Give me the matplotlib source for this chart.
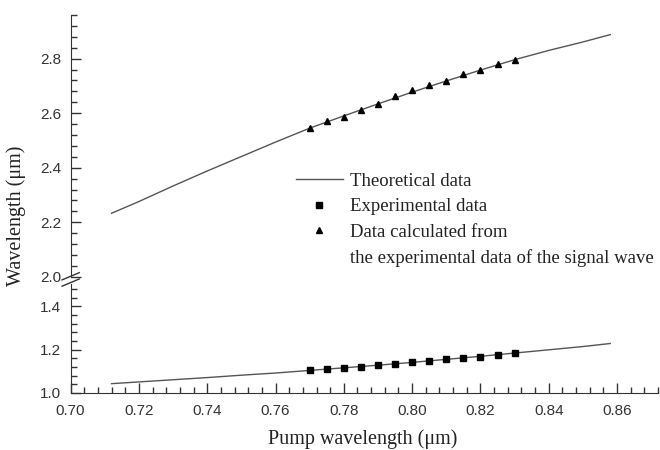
import matplotlib
matplotlib.use("Agg")
import matplotlib.pyplot as plt
from matplotlib.lines import Line2D
from matplotlib.ticker import MultipleLocator, FormatStrFormatter

# theoretical curves
theory_x = [0.712, 0.72, 0.73, 0.74, 0.75, 0.76, 0.77, 0.78, 0.79, 0.80,
            0.81, 0.82, 0.83, 0.84, 0.85, 0.858]
theory_idler = [2.233, 2.276, 2.333, 2.388, 2.441, 2.494, 2.545, 2.590, 2.634, 2.677,
                2.718, 2.758, 2.796, 2.830, 2.861, 2.888]
theory_signal = [1.043, 1.051, 1.061, 1.071, 1.082, 1.092, 1.104, 1.116, 1.128, 1.141,
                 1.155, 1.169, 1.184, 1.199, 1.214, 1.228]

# measured points
pump_x = [0.770, 0.775, 0.780, 0.785, 0.790, 0.795, 0.800, 0.805, 0.810,
          0.815, 0.820, 0.825, 0.830]
signal_exp = [1.106, 1.111, 1.117, 1.121, 1.128, 1.134, 1.141, 1.147, 1.155,
              1.161, 1.167, 1.175, 1.183]
idler_calc = [2.545, 2.573, 2.585, 2.612, 2.634, 2.664, 2.686, 2.704, 2.717,
              2.745, 2.757, 2.780, 2.796]

line_col = "#555555"
text_col = "#222222"
serif = "Liberation Serif"
sans = "Liberation Sans"

fig = plt.figure(figsize=(6.6, 4.5), dpi=100)
ax_lo = fig.add_axes([0.107, 0.1267, 0.89, 0.2411])
ax_hi = fig.add_axes([0.107, 0.3849, 0.89, 0.5818])

for ax in (ax_lo, ax_hi):
    ax.set_xlim(0.70, 0.872)
    ax.spines["top"].set_visible(False)
    ax.spines["right"].set_visible(False)
    ax.spines["left"].set_color("#333333")
    ax.spines["bottom"].set_color("#333333")
    ax.tick_params(which="both", direction="in", colors="#333333", labelcolor="#333333",
                   labelsize=11, width=1)
    ax.tick_params(which="major", length=7)
    ax.tick_params(which="minor", length=4)
    ax.tick_params(axis="x", pad=8)
    ax.tick_params(axis="y", pad=7)
    ax.xaxis.set_major_locator(MultipleLocator(0.02))
    ax.xaxis.set_minor_locator(MultipleLocator(0.004))
    ax.yaxis.set_minor_locator(MultipleLocator(0.04))
    ax.yaxis.set_major_locator(MultipleLocator(0.2))
    ax.yaxis.set_major_formatter(FormatStrFormatter("%.1f"))
    ax.xaxis.set_major_formatter(FormatStrFormatter("%.2f"))

ax_hi.spines["bottom"].set_visible(False)
ax_hi.tick_params(axis="x", which="both", bottom=False, labelbottom=False)

ax_lo.set_ylim(1.0, 1.5)
ax_hi.set_ylim(2.0, 2.96)

ax_hi.plot(theory_x, theory_idler, "-", color=line_col, lw=1)
ax_lo.plot(theory_x, theory_signal, "-", color=line_col, lw=1)
ax_lo.plot(pump_x, signal_exp, "s", color="black", ms=4.5)
ax_hi.plot(pump_x, idler_calc, "^", color="black", ms=5)

for ax in (ax_lo, ax_hi):
    for lab in ax.get_xticklabels() + ax.get_yticklabels():
        lab.set_family(sans)

# break marks on the y axis
for yy in (0.372, 0.386):
    fig.add_artist(Line2D([0.094, 0.120], [yy - 0.008, yy + 0.008],
                          transform=fig.transFigure, color="#333333", lw=1))

handles = [
    Line2D([], [], color=line_col, lw=1),
    Line2D([], [], ls="none", marker="s", color="black", ms=4.5),
    Line2D([], [], ls="none", marker="^", color="black", ms=5),
    Line2D([], [], ls="none"),
]
labels = ["Theoretical data", "Experimental data", "Data calculated from",
          "the experimental data of the signal wave"]
fig.legend(handles, labels, loc="upper left", bbox_to_anchor=(0.4485, 0.616),
           frameon=False, borderpad=0, borderaxespad=0, handlelength=2.5,
           handletextpad=0.37, labelspacing=0.44,
           prop={"family": serif, "size": 13.5}, labelcolor=text_col)

ax_hi.set_ylabel("Wavelength (μm)", family=serif, fontsize=14.5, color=text_col)
ax_hi.yaxis.set_label_coords(-0.076, 0.232)
ax_lo.set_xlabel("Pump wavelength (μm)", family=serif, fontsize=14.5, color=text_col)
ax_lo.xaxis.set_label_coords(0.498, -0.33)

fig.savefig("out.png", dpi=100)
